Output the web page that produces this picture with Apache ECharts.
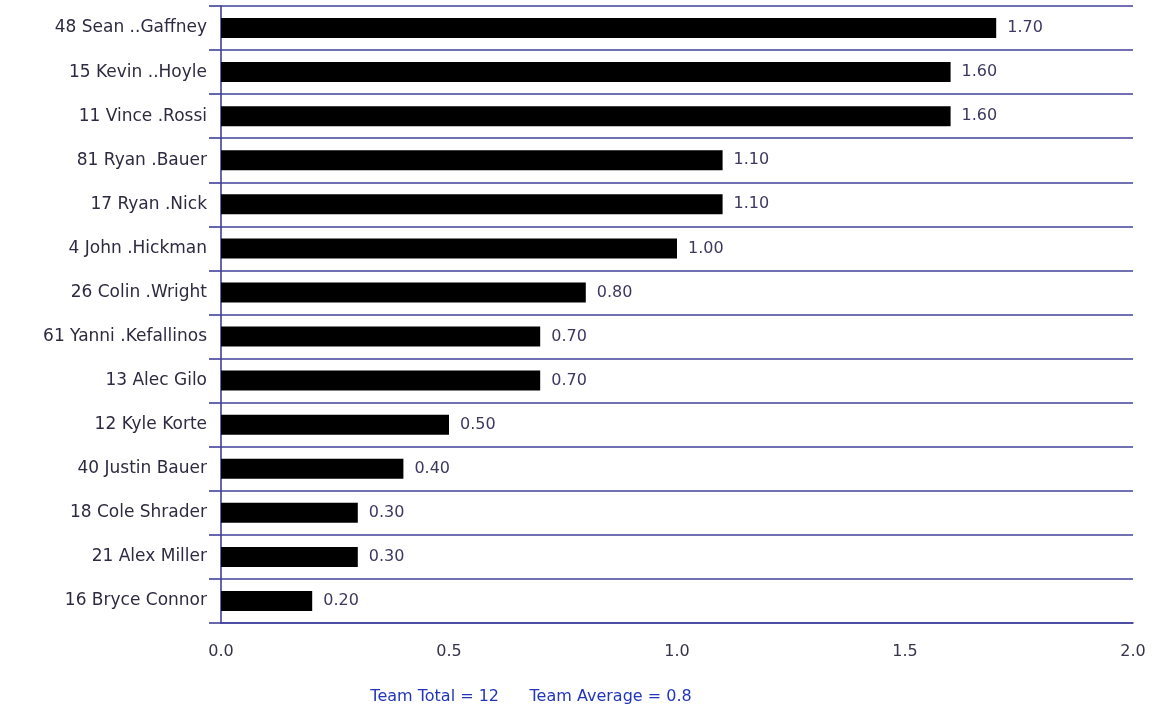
<!DOCTYPE html>
<html>
<head>
<meta charset="utf-8">
<script src="https://cdn.jsdelivr.net/npm/echarts@6/dist/echarts.min.js"></script>
<style>
html,body{margin:0;padding:0;background:#fff;}
#chart{width:1152px;height:710px;}
</style>
</head>
<body>
<div id="chart"></div>
<script>
const players = ["48 Sean ..Gaffney","15 Kevin ..Hoyle","11 Vince .Rossi","81 Ryan .Bauer","17 Ryan .Nick","4 John .Hickman","26 Colin .Wright","61 Yanni .Kefallinos","13 Alec Gilo","12 Kyle Korte","40 Justin Bauer","18 Cole Shrader","21 Alex Miller","16 Bryce Connor"];
const values = [1.70,1.60,1.60,1.10,1.10,1.00,0.80,0.70,0.70,0.50,0.40,0.30,0.30,0.20];
const xTicks = [0, 0.5, 1.0, 1.5, 2.0];
const footerText = "Team Total = 12      Team Average = 0.8";

const lineColor = "#40409a";
const font = 'DejaVu Sans, Verdana, sans-serif';
const chart = echarts.init(document.getElementById('chart'));
chart.setOption({
  animation: false,
  grid: {left: 221, right: 19, top: 6, bottom: 87, containLabel: false},
  xAxis: {
    type: 'value', min: xTicks[0], max: xTicks[xTicks.length-1], interval: 0.5,
    axisLine: {show: true, lineStyle: {color: lineColor, width: 1.6}},
    axisTick: {show: false},
    splitLine: {show: false},
    axisLabel: {margin: 21, color: '#35344a', fontSize: 16, fontFamily: font,
      formatter: v => v.toFixed(1)}
  },
  yAxis: {
    type: 'category', data: players, inverse: true,
    axisLine: {show: true, lineStyle: {color: lineColor, width: 1.6}},
    axisTick: {show: true, length: 12, lineStyle: {color: lineColor, width: 1.6}},
    splitLine: {show: true, lineStyle: {color: lineColor, width: 1.6}},
    axisLabel: {margin: 14, color: '#2e2a40', fontSize: 17, fontFamily: font}
  },
  series: [{
    type: 'bar', data: values, barWidth: 20,
    itemStyle: {color: '#000'},
    label: {show: true, position: 'right', distance: 11, color: '#3d3860', fontSize: 16,
      fontFamily: font, formatter: p => p.value.toFixed(2)}
  }],
  graphic: [{
    type: 'text', x: 531, y: 697,
    style: {text: footerText, fill: '#2235bb', fontSize: 16, fontFamily: font,
      align: 'center', verticalAlign: 'middle'}
  }]
});
</script>
</body>
</html>
